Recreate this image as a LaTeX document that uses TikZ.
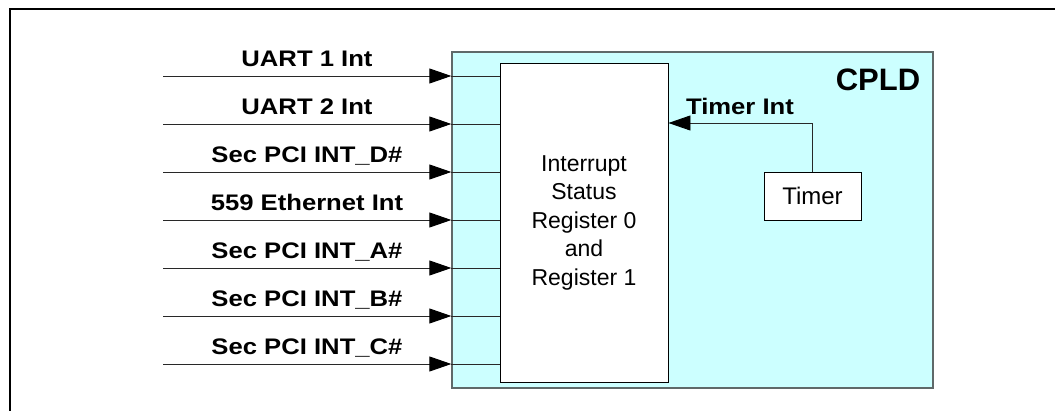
\documentclass[tikz,border=0pt]{standalone}
\usepackage{fontspec}
\setmainfont{Liberation Sans}
\usetikzlibrary{arrows.meta}
\definecolor{cpldfill}{RGB}{204,255,255}
\definecolor{cpldedge}{RGB}{95,105,105}
\definecolor{wire}{RGB}{40,40,40}
% slightly widened bold lettering for the signal names
\newcommand{\sigtext}[1]{\scalebox{1.14}[1]{#1}}
\begin{document}
\begin{tikzpicture}[x=1pt,y=1pt,
  frameline/.style={line width=2pt,black},
  cpldbox/.style={draw=cpldedge,fill=cpldfill,line width=1.3pt,inner sep=0pt},
  regbox/.style={draw=black,fill=white,line width=0.9pt,inner sep=0pt},
  sig/.style={draw=wire,line width=0.9pt,-{Triangle[length=22pt,width=15pt,color=black]}},
  wireline/.style={draw=wire,line width=0.9pt},
  siglabel/.style={anchor=base,inner sep=0pt,font=\bfseries\fontsize{22.5}{27}\selectfont},
  plaintext/.style={font=\fontsize{23}{28.5}\selectfont,align=center}
]
\useasboundingbox (0,0) rectangle (1055,-411);

% page frame (top and left edges)
\draw[frameline] (10,-411) -- (10,-9) -- (1055,-9);

% CPLD and its register block
\node[cpldbox,minimum width=481pt,minimum height=336pt] (cpld) at (692.5,-220) {};
\node[regbox,minimum width=168pt,minimum height=319pt,plaintext] (reg) at (584,-222.5)
  {Interrupt\\Status\\Register 0\\and\\Register 1};
\node[anchor=base,inner sep=0pt,font=\bfseries\fontsize{31}{36}\selectfont] (cpldname) at (878,-91) {CPLD};

% timer and its interrupt line
\node[draw=black,fill=white,line width=0.9pt,minimum width=97pt,minimum height=48pt,inner sep=0pt,
      font=\fontsize{24}{28}\selectfont] (timer) at (812.5,-196) {Timer};
\coordinate (tbend) at (812.5,-123);
\draw[sig] (timer.north) -- (tbend) -- (tbend -| reg.east);
\node[siglabel] (tlabel) at (740,-115) {\sigtext{Timer Int}};

% interrupt inputs
\foreach \name/\txt [count=\i from 0] in {
    ua/UART 1 Int, ub/UART 2 Int, pd/Sec PCI INT\_D\#, eth/559 Ethernet Int,
    pa/Sec PCI INT\_A\#, pb/Sec PCI INT\_B\#, pc/Sec PCI INT\_C\#}{
  \coordinate (\name) at (163,-76-48*\i);
  \draw[sig] (\name) -- (\name -| cpld.west);
  \draw[wireline] (\name -| cpld.west) -- (\name -| reg.west);
  \node[siglabel] (\name-label) at (307,-67-48*\i) {\sigtext{\txt}};
}
\end{tikzpicture}
\end{document}
